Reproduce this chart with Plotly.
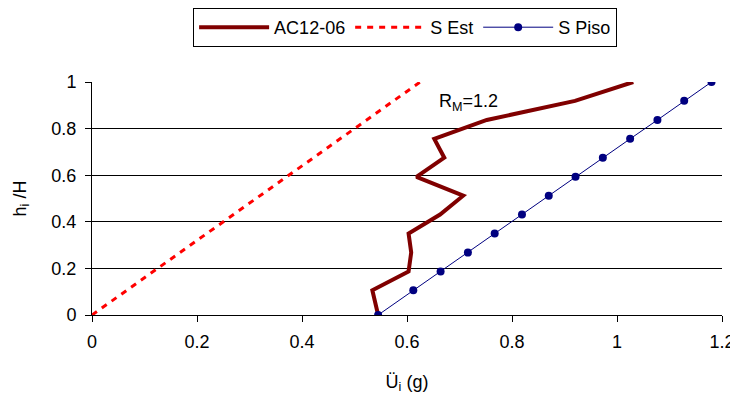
import plotly.graph_objects as go

levels = [0, 0.106, 0.187, 0.268, 0.35, 0.431, 0.512, 0.593, 0.675, 0.756, 0.837, 0.919, 1.0]
ac12_06 = [0.545, 0.534, 0.603, 0.608, 0.603, 0.663, 0.707, 0.618, 0.671, 0.652, 0.752, 0.920, 1.031]
s_est_x = [0.0, 0.625]
s_est_y = [0.0, 1.0]
s_piso = [0.545, 0.612, 0.664, 0.716, 0.767, 0.819, 0.870, 0.921, 0.973, 1.025, 1.077, 1.128, 1.180]

FONT = "Liberation Sans, Arial"

fig = go.Figure()
fig.add_trace(go.Scatter(x=ac12_06, y=levels, mode="lines", name="AC12-06",
                         line=dict(color="#800000", width=4)))
fig.add_trace(go.Scatter(x=s_est_x, y=s_est_y, mode="lines", name="S Est",
                         line=dict(color="#FF0000", width=3, dash="6px,6px")))
fig.add_trace(go.Scatter(x=s_piso, y=levels, mode="lines+markers", name="S Piso",
                         line=dict(color="#000080", width=1),
                         marker=dict(color="#000080", size=8)))

fig.add_annotation(x=0.657, y=0.91, xref="x", yref="y", xanchor="left", yanchor="middle",
                   text="R<sub>M</sub>=1.2", showarrow=False,
                   font=dict(size=18, color="black", family=FONT))

# page body adds 8px offset; compensate in margins/size
fig.update_layout(
    width=730, height=393,
    margin=dict(l=84, r=16, t=74, b=86),
    paper_bgcolor="white", plot_bgcolor="white",
    font=dict(family=FONT, size=18, color="black"),
    showlegend=True,
    legend=dict(orientation="h", x=0.497, xanchor="center",
                yref="container", y=1.0, yanchor="top",
                bordercolor="black", borderwidth=1, bgcolor="white",
                font=dict(size=18), itemwidth=70, tracegroupgap=0),
    xaxis=dict(range=[0, 1.2], tickvals=[0, 0.2, 0.4, 0.6, 0.8, 1, 1.2],
               ticktext=["0", "0.2", "0.4", "0.6", "0.8", "1", "1.2"],
               showgrid=False, zeroline=False, showline=True, linecolor="black",
               ticks="outside", ticklen=6, tickcolor="black", automargin=False,
               tickfont=dict(size=18), ticklabelstandoff=4,
               title=dict(text="Ü<sub>i</sub> (g)", standoff=24, font=dict(size=18))),
    yaxis=dict(range=[0, 1], tickvals=[0, 0.2, 0.4, 0.6, 0.8, 1],
               ticktext=["0", "0.2", "0.4", "0.6", "0.8", "1"],
               showgrid=True, gridcolor="black", gridwidth=1, zeroline=False,
               showline=True, linecolor="black", automargin=False,
               ticks="outside", ticklen=6, tickcolor="black",
               tickfont=dict(size=18), ticklabelstandoff=5,
               title=dict(text="h<sub>i</sub> /H", standoff=20, font=dict(size=18))),
)

fig.write_html("out.html")
